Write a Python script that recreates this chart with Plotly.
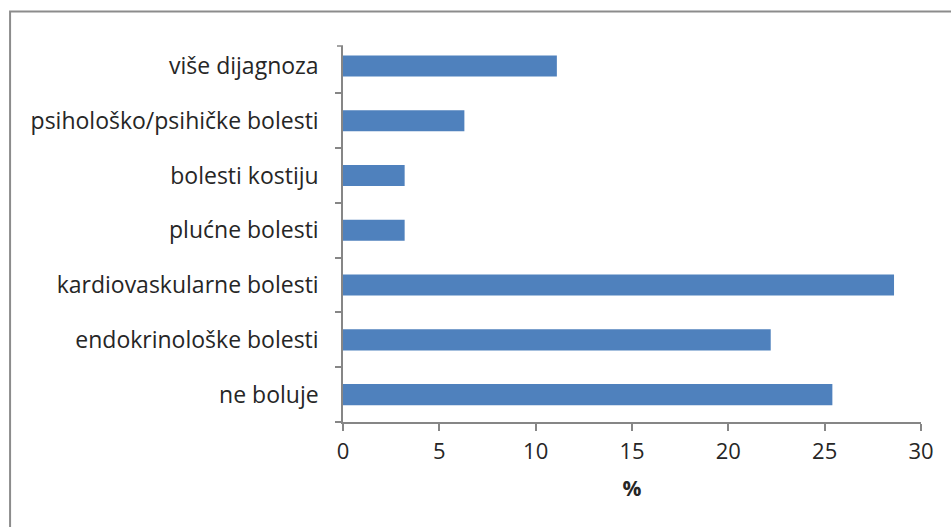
import plotly.graph_objects as go

categories = ["ne boluje", "endokrinološke bolesti", "kardiovaskularne bolesti",
              "plućne bolesti", "bolesti kostiju", "psihološko/psihičke bolesti",
              "više dijagnoza"]
values = [25.4, 22.2, 28.6, 3.2, 3.2, 6.3, 11.1]
x_ticks = [0, 5, 10, 15, 20, 25, 30]

fig = go.Figure(go.Bar(
    y=categories, x=values, orientation="h",
    marker=dict(color="#4F81BD", line=dict(color="#4F81BD", width=0)),
))

axis_color = "#868686"
font_family = "Open Sans, Lato, sans-serif"

fig.update_layout(
    width=951, height=527,
    margin=dict(l=343, r=30, t=46, b=105, autoexpand=False),
    paper_bgcolor="white", plot_bgcolor="white",
    bargap=0.615,
    showlegend=False,
    font=dict(family=font_family, size=22, color="#262626"),
    xaxis=dict(
        range=[0, 30], tickvals=x_ticks, showgrid=False, zeroline=False,
        showline=True, linecolor=axis_color, linewidth=1.5,
        ticks="outside", ticklen=7, tickcolor=axis_color, tickwidth=1.5,
        tickfont=dict(size=22), ticklabelstandoff=2,
        title=dict(text="<b>%</b>", font=dict(size=21), standoff=17),
    ),
    yaxis=dict(
        range=[-0.5, 6.365],
        showgrid=False, zeroline=False,
        showline=True, linecolor=axis_color, linewidth=1.5,
        ticks="outside", ticklen=6, tickcolor=axis_color, tickwidth=1.5,
        tickson="boundaries", ticklabelstandoff=18,
        tickfont=dict(size=23),
        categoryorder="array", categoryarray=categories,
    ),
    shapes=[
        dict(type="rect", xref="paper", yref="paper",
             x0=-0.576, x1=1.07, y0=-0.3, y1=1.0918,
             line=dict(color="#8c8c8c", width=2), fillcolor="rgba(0,0,0,0)",
             layer="below"),
        dict(type="line", xref="paper", yref="paper",
             x0=-6 / 578, x1=0, y0=1, y1=1,
             line=dict(color=axis_color, width=1.5)),
    ],
)

fig.write_html("out.html", config={"displayModeBar": False},
               post_script="document.body.style.margin='0px';")
